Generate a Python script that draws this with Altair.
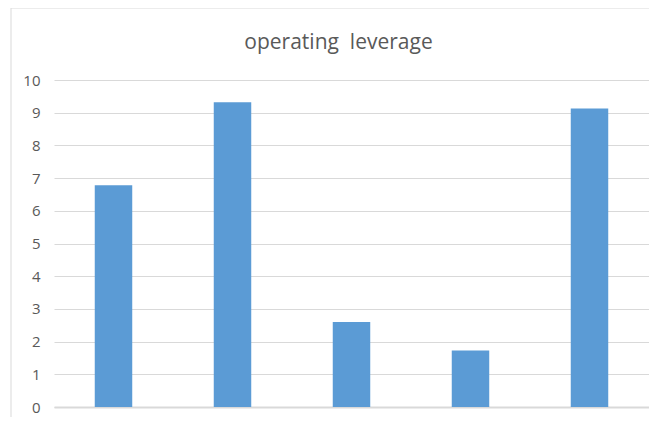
import altair as alt
import pandas as pd

categories = ["1", "2", "3", "4", "5"]
values = [6.78, 9.32, 2.6, 1.73, 9.13]
y_ticks = list(range(0, 11))
title_text = "operating \u00a0leverage"

df = pd.DataFrame({"cat": categories, "val": values})
frame_df = pd.DataFrame({"k": [0]})

W, H = 595, 327

bars = alt.Chart(df).mark_bar(color="#5B9BD5").encode(
    x=alt.X(
        "cat:N",
        sort=None,
        scale=alt.Scale(paddingInner=0.685, paddingOuter=0.3425),
        axis=alt.Axis(labels=False, ticks=False, title=None,
                      domainColor="#d9d9d9", domainWidth=2, grid=False),
    ),
    y=alt.Y(
        "val:Q",
        scale=alt.Scale(domain=[0, 10], nice=False),
        axis=alt.Axis(values=y_ticks, ticks=False, tickSize=0, labelPadding=14,
                      domain=False, grid=True, gridColor="#d9d9d9", gridWidth=1,
                      title=None, labelFont="Open Sans", labelFontSize=15,
                      labelColor="#595959"),
    ),
)

left_border = alt.Chart(frame_df).mark_rule(color="#d9d9d9", strokeWidth=1).encode(
    x=alt.value(-43), y=alt.value(-72), y2=alt.value(H + 30)
)
top_border = alt.Chart(frame_df).mark_rule(color="#d9d9d9", strokeWidth=1).encode(
    x=alt.value(-43), x2=alt.value(W + 20), y=alt.value(-72)
)

chart = alt.layer(left_border, top_border, bars).properties(
    width=W,
    height=H,
    autosize=alt.AutoSizeParams(type="none"),
    padding={"left": 46, "top": 72, "right": 0, "bottom": 10},
    title=alt.TitleParams(
        title_text, font="Open Sans", fontSize=21, fontWeight="normal",
        color="#595959", anchor="middle", frame="group",
        baseline="alphabetic", offset=-62, dx=-13,
    ),
).configure_view(stroke=None)

chart.save("out.html", embed_options={"renderer": "svg", "actions": False})
